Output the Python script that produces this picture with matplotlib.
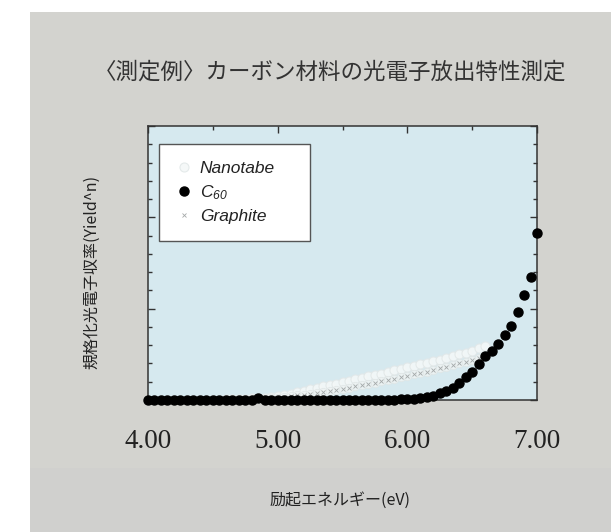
import numpy as np
import matplotlib
matplotlib.use("Agg")
from matplotlib import pyplot as plt
from matplotlib.patches import Rectangle
from matplotlib.ticker import MultipleLocator

plt.rcParams['font.family'] = ['Noto Sans CJK JP', 'DejaVu Sans']
plt.rcParams['mathtext.fontset'] = 'custom'
plt.rcParams['mathtext.it'] = 'Liberation Sans:italic'
plt.rcParams['mathtext.rm'] = 'Liberation Sans:italic'

# excitation energy grid (eV), 0.05 step
energy = np.round(np.linspace(4.0, 7.0, 61), 2)

c60 = [0.0, 0.005, 0.0, 0.005, 0.0, 0.0, 0.005, 0.0, 0.0, 0.005,
       0.0, 0.0, 0.005, 0.0, 0.0, 0.0, 0.005, 0.025,
       0.0, 0.005, 0.0, 0.0, 0.005, 0.0, 0.0, 0.005, 0.0, 0.0, 0.005,
       0.0, 0.0, 0.005, 0.0, 0.0, 0.005, 0.0, 0.0, 0.005, 0.005, 0.01,
       0.01, 0.015, 0.02, 0.035, 0.045, 0.08, 0.10, 0.13, 0.19, 0.25,
       0.31, 0.39, 0.48, 0.54, 0.61, 0.71, 0.81, 0.96, 1.15, 1.35, 1.83]

# nanotube / graphite measured up to 6.60 eV
nanotube = [0.0, 0.0, 0.0, 0.0, 0.0, 0.0, 0.0, 0.0, 0.0, 0.005,
            0.005, 0.005, 0.01, 0.01, 0.015, 0.015, 0.02, 0.02, 0.025, 0.03,
            0.04, 0.055, 0.07, 0.085, 0.10, 0.115, 0.13, 0.15, 0.165, 0.18,
            0.195, 0.21, 0.225, 0.24, 0.26, 0.275, 0.29, 0.31, 0.325, 0.34,
            0.36, 0.375, 0.39, 0.41, 0.425, 0.44, 0.46, 0.48, 0.50, 0.52,
            0.54, 0.565, 0.59]
graphite = [0.0, 0.0, 0.0, 0.0, 0.0, 0.0, 0.0, 0.0, 0.0, 0.0,
            0.0, 0.0, 0.0, 0.0, 0.005, 0.005, 0.01, 0.01, 0.015, 0.02,
            0.025, 0.03, 0.04, 0.05, 0.06, 0.07, 0.08, 0.09, 0.10, 0.11,
            0.12, 0.135, 0.15, 0.16, 0.175, 0.19, 0.205, 0.22, 0.235, 0.25,
            0.265, 0.28, 0.295, 0.31, 0.33, 0.345, 0.36, 0.38, 0.40, 0.42,
            0.44, 0.46, 0.48]

title = "〈測定例〉カーボン材料の光電子放出特性測定"
xlabel = "励起エネルギー(eV)"
ylabel = "規格化光電子収率(Yield^n)"
xtick_vals = [4.0, 5.0, 6.0, 7.0]
xtick_labels = ["4.00", "5.00", "6.00", "7.00"]

fig = plt.figure(figsize=(6.11, 5.32), dpi=100)
fig.patch.set_facecolor('white')
# grey panel behind the chart
fig.patches.append(Rectangle((30/611, 0), 1, 520/532, transform=fig.transFigure,
                             facecolor='#d3d3cf', edgecolor='none', zorder=-10))
fig.patches.append(Rectangle((30/611, 0), 1, 64/532, transform=fig.transFigure,
                             facecolor='#d0d0ce', edgecolor='none', zorder=-9))

ax = fig.add_axes([148/611, 132/532, 389/611, 274/532])
ax.set_facecolor('#d6e9ef')

n = len(nanotube)
ax.plot(energy[:n], nanotube, 'o', ms=6.5, mfc='#f4f8f8', mec='#e2e8e8', mew=0.8,
        alpha=0.9, label='Nanotabe', clip_on=False, zorder=2)
ax.plot(energy[:n], graphite, 'o', ms=6, mfc='#eef3f3', mec='#dfe5e5', mew=0.6,
        alpha=0.85, clip_on=False, zorder=2)
ax.plot(energy[:n], graphite, 'x', ms=3, color='#a4a8a8', mew=0.6,
        label='Graphite', clip_on=False, zorder=2)
ax.plot(energy, c60, 'o', ms=6.5, color='black', label=r'$C_{60}$',
        clip_on=False, zorder=3)

ax.set_xlim(4.0, 7.0)
ax.set_ylim(0, 3)
ax.set_xticks(xtick_vals)
ax.set_xticklabels(xtick_labels, family='Liberation Serif', fontsize=19.5,
                   color='#222222')
ax.xaxis.set_minor_locator(MultipleLocator(0.5))
ax.yaxis.set_major_locator(MultipleLocator(1))
ax.yaxis.set_minor_locator(MultipleLocator(0.2))
ax.set_yticklabels([])
ax.tick_params(which='both', direction='in', top=True, right=True, bottom=False,
               color='#333333', width=1)
ax.tick_params(which='major', length=5, pad=21)
ax.tick_params(which='minor', length=3)
for s in ax.spines.values():
    s.set_color('#333333')
    s.set_linewidth(1.1)

handles, labels = ax.get_legend_handles_labels()
order = [0, 2, 1]
leg_w = 151 / 389
leg_h = 94 / 274
leg = ax.legend([handles[i] for i in order], [labels[i] for i in order],
                loc='upper left', mode='expand',
                bbox_to_anchor=(0.028, 0.934 - leg_h, leg_w, leg_h),
                borderaxespad=0, fancybox=False, framealpha=1,
                edgecolor='#555555',
                prop={'family': 'Liberation Sans', 'style': 'italic', 'size': 12.5},
                handletextpad=0.35, handlelength=1.05, borderpad=0.95,
                labelspacing=0.42)
leg.get_frame().set_linewidth(1.0)
for t in leg.get_texts():
    t.set_color('#222222')

fig.text(330/611, 1 - 72/532, title, ha='center', va='center', fontsize=16.2,
         color='#333333')
fig.text(340/611, 1 - 500/532, xlabel, ha='center', va='center', fontsize=11.5,
         color='#222222')
fig.text(92/611, 1 - 272/532, ylabel, ha='center', va='center', fontsize=11.5,
         rotation=90, color='#222222')

fig.savefig('out.png', dpi=100)
